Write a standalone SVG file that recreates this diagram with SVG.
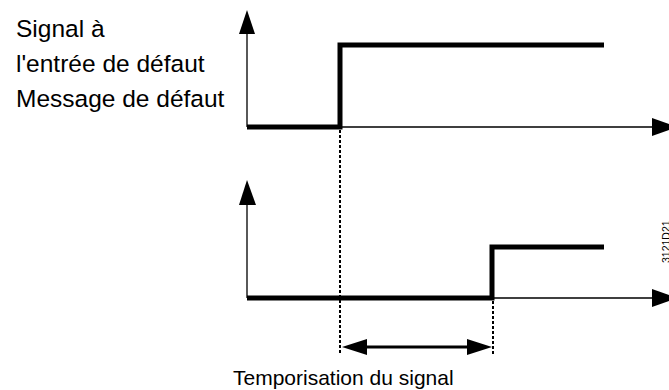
<svg xmlns="http://www.w3.org/2000/svg" width="669" height="390" viewBox="0 0 669 390">
<style>
.lbl{font-family:"Liberation Sans",Arial,sans-serif;font-size:24.5px;fill:#000}
.cap{font-family:"Liberation Sans",Arial,sans-serif;font-size:21px;fill:#000}
.axis{stroke:#000;stroke-width:1.3;fill:none}
.sig{stroke:#000;stroke-width:5;fill:none;stroke-linejoin:miter}
.dot{stroke:#000;stroke-width:2;stroke-dasharray:3 2;fill:none}
.head{fill:#000;stroke:none}
</style>
<rect width="669" height="390" fill="#fff"/>
<g id="labels">
<text class="lbl" x="16" y="37">Signal à</text>
<text class="lbl" x="16" y="72">l'entrée de défaut</text>
<text class="lbl" x="16" y="107">Message de défaut</text>
<text class="cap" x="233" y="385">Temporisation du signal</text>
<text x="670" y="263" transform="rotate(-90 670 263)" font-family="Liberation Sans, Arial, sans-serif" font-size="10.5">3121D21</text>
</g>
<g id="top-chart">
<path class="axis" d="M247 127V32M247 127H654"/>
<polygon class="head" points="247,10 239,34 255,34"/>
<polygon class="head" points="677,127 652,118 652,136"/>
<path class="sig" d="M247 127H340V45H604"/>
</g>
<g id="bottom-chart">
<path class="axis" d="M247 298V203M247 298H654"/>
<polygon class="head" points="247,180 239,205 256,205"/>
<polygon class="head" points="677,298 652,289 652,307"/>
<path class="sig" d="M247 298H492V247H604"/>
</g>
<g id="connectors">
<path class="dot" d="M340 130V354M493 301V354"/>
<path d="M360 347H472" stroke="#000" stroke-width="3" fill="none"/>
<polygon class="head" points="342,347 367,339 367,355"/>
<polygon class="head" points="492,347 467,339 467,355"/>
</g>
</svg>
